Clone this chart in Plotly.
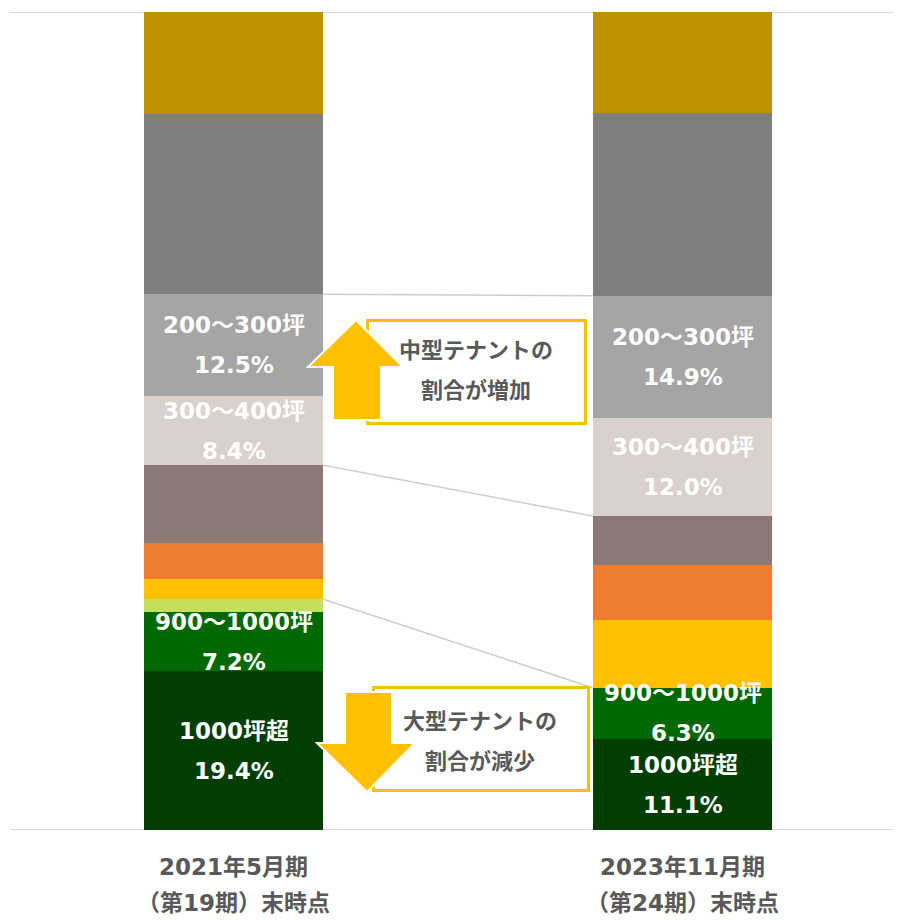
import plotly.graph_objects as go

# ---------------- data ----------------
categories = ["2021年5月期", "2023年11月期"]
category_sub = ["（第19期）末時点", "（第24期）末時点"]

series_names = ["1000坪超", "900～1000坪", "800～900坪", "700～800坪", "500～700坪",
                "400～500坪", "300～400坪", "200～300坪", "100～200坪", "100坪未満"]
values_2021 = [19.4, 7.2, 1.6, 2.5, 4.4, 9.5, 8.4, 12.5, 22.0, 12.5]
values_2023 = [11.1, 6.3, 0.0, 8.3, 6.7, 6.0, 12.0, 14.9, 22.3, 12.4]
labeled_series = ["1000坪超", "900～1000坪", "300～400坪", "200～300坪"]
connector_series = ["200～300坪", "400～500坪", "800～900坪"]

callout_up = ["中型テナントの", "割合が増加"]
callout_down = ["大型テナントの", "割合が減少"]

# ---------------- style ----------------
colors = ["#003E00", "#006800", "#C5DF5A", "#FFC000", "#ED7D31",
          "#8B7975", "#D9D1CE", "#A5A5A5", "#7F7F7F", "#BF9000"]
OFF = 8                      # browser body margin
W, H = 901 - OFF, 920 - OFF
# plot area in page pixels: x 10..901, y 12..830
PL, PR, PT, PB = 10, 901, 12, 830
ML, MR, MT, MB = PL - OFF, W - (PR - OFF), PT - OFF, H - (PB - OFF)
PW, PH = PR - PL, PB - PT
LABEL_FONT = "DejaVu Sans, Noto Sans CJK JP, sans-serif"
CJK_FONT = "Noto Sans CJK JP, sans-serif"
GRAY_TEXT = "#595959"
YELLOW = "#FFC000"
BAR_W = 0.4
STEP = 449                   # pixels between bar centres

def px(x):
    return (x - PL) / PW

def py(y):
    return (PB - y) / PH

xs = list(range(len(categories)))
data_by_cat = [values_2021, values_2023]

fig = go.Figure()
for i, name in enumerate(series_names):
    fig.add_trace(go.Bar(
        x=xs, y=[values_2021[i], values_2023[i]], name=name,
        width=BAR_W, marker=dict(color=colors[i], line=dict(width=0)),
        hoverinfo="name+y",
    ))

annotations = []
for ci, vals in enumerate(data_by_cat):
    cum = 0
    for i, name in enumerate(series_names):
        v = vals[i]
        mid = cum + v / 2
        cum += v
        if name in labeled_series:
            for text, shift in ((name, 20), (f"{v:.1f}%", -20)):
                annotations.append(dict(
                    x=xs[ci], y=mid, xref="x", yref="y", text=text, showarrow=False,
                    yshift=shift, xanchor="center", yanchor="middle",
                    font=dict(family=LABEL_FONT, size=23, color="white", weight="bold")))

for ci in range(len(categories)):
    for text, shift in ((categories[ci], -37), (category_sub[ci], -73)):
        annotations.append(dict(
            x=xs[ci], y=0, xref="x", yref="paper", text=text, showarrow=False,
            yshift=shift, xanchor="center", yanchor="middle",
            font=dict(family=LABEL_FONT, size=23, color=GRAY_TEXT, weight="bold")))

shapes = []
# gridlines (0% and 100%)
for gy in (0, 100):
    shapes.append(dict(type="line", xref="paper", yref="y", x0=0, x1=1, y0=gy, y1=gy,
                       line=dict(color="#D9D9D9", width=2), layer="below"))

def cum_top(vals, name):
    idx = series_names.index(name)
    return sum(vals[:idx + 1])

for name in connector_series:
    shapes.append(dict(
        type="line", xref="x", yref="y",
        x0=xs[0] + BAR_W / 2, x1=xs[1] - BAR_W / 2,
        y0=cum_top(values_2021, name), y1=cum_top(values_2023, name),
        line=dict(color="#D3CBC8", width=1.5), layer="above"))

def box(x0, y0, x1, y1):
    return dict(type="rect", xref="paper", yref="paper",
                x0=px(x0), x1=px(x1), y0=py(y1), y1=py(y0),
                fillcolor="white", line=dict(color=YELLOW, width=3), layer="above")

shapes.append(box(367.5, 320.5, 585.5, 423.5))
shapes.append(box(373.5, 687.5, 588.5, 790.5))

def arrow_path(points):
    return "M " + " L ".join(f"{px(x):.5f},{py(y):.5f}" for x, y in points) + " Z"

up_pts = [(356, 320), (403, 367), (381, 367), (381, 420), (333, 420), (333, 367), (308, 367)]
down_pts = [(367, 792), (415, 743), (392, 743), (392, 692), (345, 692), (345, 743), (317, 743)]
for pts in (up_pts, down_pts):
    shapes.append(dict(type="path", xref="paper", yref="paper", path=arrow_path(pts),
                       fillcolor=YELLOW, line=dict(color="white", width=2), layer="above"))

for lines, cx, cy in ((callout_up, 476, 368), (callout_down, 480, 739)):
    for text, dy in ((lines[0], -20), (lines[1], 20)):
        annotations.append(dict(
            x=px(cx), y=py(cy + dy), xref="paper", yref="paper", text=text,
            showarrow=False, xanchor="center", yanchor="middle",
            font=dict(family=CJK_FONT, size=22, color=GRAY_TEXT, weight="bold")))

a = -(233.5 - PL) / STEP
fig.update_layout(
    width=W, height=H, barmode="stack", showlegend=False,
    margin=dict(l=ML, r=MR, t=MT, b=MB, pad=0),
    paper_bgcolor="white", plot_bgcolor="white",
    xaxis=dict(range=[a, a + PW / STEP], showticklabels=False, showgrid=False,
               zeroline=False, showline=False, ticks="", fixedrange=True),
    yaxis=dict(range=[0, 100], showticklabels=False, showgrid=False,
               zeroline=False, showline=False, ticks="", fixedrange=True),
    annotations=annotations, shapes=shapes,
)

fig.write_html("out.html")
